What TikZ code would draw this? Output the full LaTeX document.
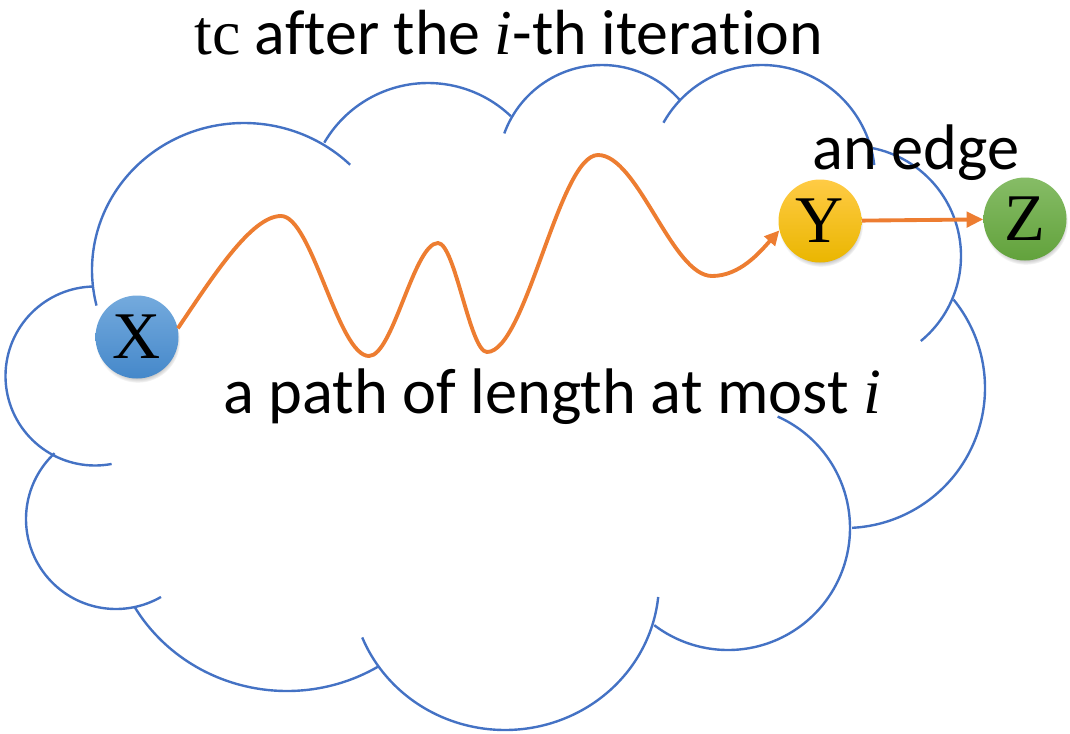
\documentclass[tikz,border=0pt]{standalone}
\usepackage{fontspec}
\setmainfont{Carlito}[Ligatures=NoCommon]
\newfontfamily\seriffont{Liberation Serif}
\usetikzlibrary{arrows.meta,shadows,fadings}
\definecolor{cloudblue}{HTML}{4472C4}
\definecolor{orangeline}{HTML}{ED7D31}
\definecolor{xtop}{HTML}{74AADD}
\definecolor{xbot}{HTML}{4588CA}
\definecolor{ytop}{HTML}{FFCB45}
\definecolor{ybot}{HTML}{EAB600}
\definecolor{ztop}{HTML}{86BC66}
\definecolor{zbot}{HTML}{62A23C}
\begin{document}
\begin{tikzpicture}[x=0.75pt,y=-0.75pt,
  cloudline/.style={draw=cloudblue,line width=1.8pt},
  wavyline/.style={draw=orangeline,line width=2.9pt,-{Triangle[length=11pt,width=10.5pt]}},
  edgeline/.style={draw=orangeline,line width=2.9pt,-{Triangle[length=12.5pt,width=11.5pt]}},
  ball/.style={circle,minimum size=62.25pt,inner sep=0pt,
    font=\seriffont\fontsize{50}{52}\selectfont,
    circular drop shadow={shadow xshift=0.6pt,shadow yshift=-2.6pt,shadow scale=1.02,opacity=0.55}},
  label/.style={anchor=base west,inner sep=0pt,font=\fontsize{48.3}{52}\selectfont}]
\useasboundingbox (0,0) rectangle (1070,733);
% cloud lobes (pixel frame, angles clockwise)
\draw[cloudline] plot[variable=\t,domain=166:314.3,samples=70,smooth] ({244+152*cos(\t)},{270+147*sin(\t)});
\draw[cloudline] plot[variable=\t,domain=210.2:313.7,samples=50,smooth] ({428+120*cos(\t)},{203+120*sin(\t)});
\draw[cloudline] plot[variable=\t,domain=200:318.5,samples=50,smooth] ({602+104*cos(\t)},{169+104*sin(\t)});
\draw[cloudline] plot[variable=\t,domain=209.3:353.4,samples=60,smooth] ({762+113*cos(\t)},{178+113*sin(\t)});
\draw[cloudline] plot[variable=\t,domain=281.5:410.6,samples=60,smooth] ({851+110*cos(\t)},{256+110*sin(\t)});
\draw[cloudline] plot[variable=\t,domain=320.8:447.1,samples=60,smooth] ({845+140*cos(\t)},{388+140*sin(\t)});
\draw[cloudline] plot[variable=\t,domain=294:487.2,samples=80,smooth] ({728+122*cos(\t)},{528+122*sin(\t)});
\draw[cloudline] plot[variable=\t,domain=5.8:158,samples=60,smooth] ({505+154*cos(\t)},{582+148*sin(\t)});
\draw[cloudline] plot[variable=\t,domain=59:149.5,samples=50,smooth] ({287+177*cos(\t)},{520+171*sin(\t)});
\draw[cloudline] plot[variable=\t,domain=60:227,samples=70,smooth] ({116+90*cos(\t)},{519+90*sin(\t)});
\draw[cloudline] plot[variable=\t,domain=79.3:268.7,samples=70,smooth] ({95+89.5*cos(\t)},{376+89.5*sin(\t)});
% texts
\node[label,font=\fontsize{47.9}{52}\selectfont] (title) at (194,54) {{\seriffont tc} after the {\seriffont\itshape i}-th iteration};
\node[label] (edgelabel) at (812,169) {an edge};
\node[label] (pathlabel) at (223,413) {a path of length at most {\seriffont\itshape i}};
% nodes
\node[ball,top color=xtop,bottom color=xbot] (X) at (137,337) {X};
\node[ball,top color=ytop,bottom color=ybot] (Y) at (820,221) {Y};
\node[ball,top color=ztop,bottom color=zbot] (Z) at (1025,219) {Z};
% connectors
\draw[wavyline] (X.12) .. controls (212,278) and (251,216) .. (281,216)
  .. controls (312,216) and (338,356) .. (369,356)
  .. controls (393,356) and (414,243) .. (438,243)
  .. controls (455,243) and (470,352) .. (487,352)
  .. controls (526,352) and (559,155) .. (598,155)
  .. controls (638,155) and (672,276) .. (712,276)
  .. controls (740,276) and (760,252) .. (Y.193);
\draw[edgeline] (Y) -- (Z);
\end{tikzpicture}
\end{document}
